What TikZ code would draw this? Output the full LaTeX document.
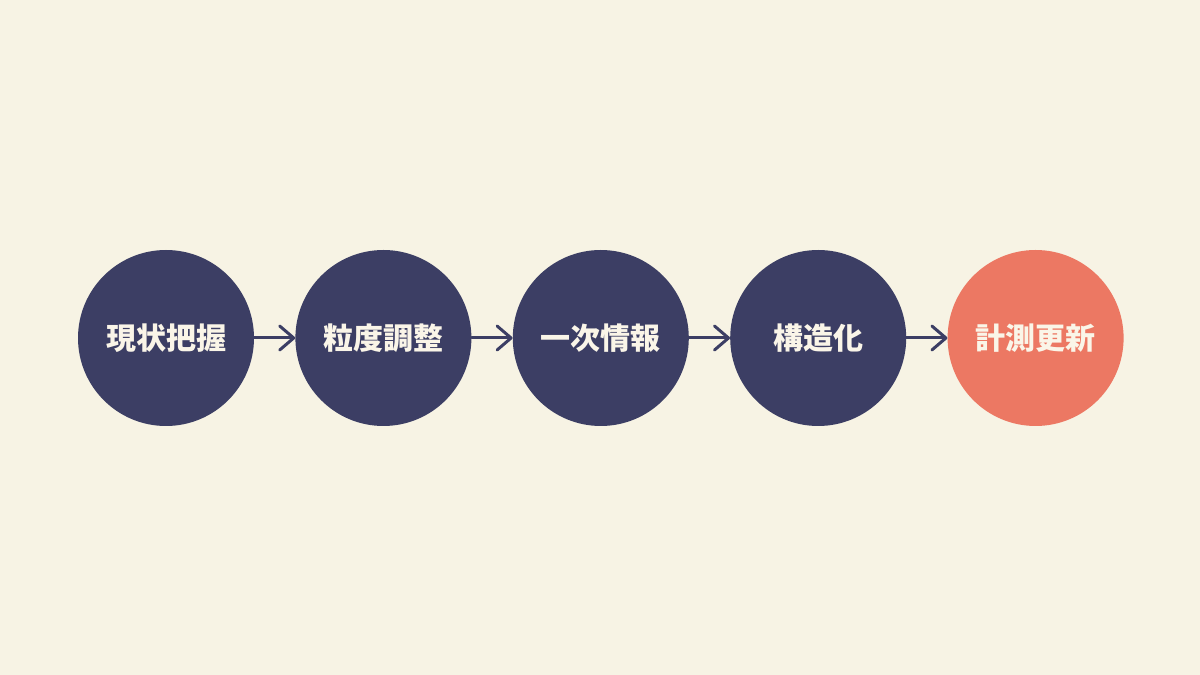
\documentclass[tikz,border=0pt]{standalone}
\usepackage{fontspec}
\newfontfamily\jpfont{Noto Sans CJK JP}
\usetikzlibrary{positioning,arrows.meta}
\definecolor{cream}{HTML}{F7F3E4}
\definecolor{navy}{HTML}{3C3E64}
\definecolor{coral}{HTML}{EC7863}
\definecolor{labelwhite}{HTML}{FAF5E8}
\begin{document}
\begin{tikzpicture}
        [
            x = 1pt, y = 1pt,
            node distance = 41pt,
            stage/.style={circle, fill=navy, minimum size=176pt, inner sep=0pt,
                text=labelwhite, font=\jpfont\bfseries\fontsize{30}{36}\selectfont},
            flow/.style={draw=navy, line width=3pt, line cap=round,
                -{Straight Barb[length=14pt, width=24pt, line width=3pt, round]}},
        ]
        \fill[cream] (0,0) rectangle (1200,675);
        \node[stage] (grasp) at (166,337) {現状把握};
        \node[stage, right=of grasp] (tune) {粒度調整};
        \node[stage, right=of tune] (source) {一次情報};
        \node[stage, right=of source] (struct) {構造化};
        \node[stage, right=of struct, fill=coral] (update) {計測更新};
        \foreach \from/\to in {grasp/tune, tune/source, source/struct, struct/update}
            \draw[flow] (\from) -- (\to);
\end{tikzpicture}
\end{document}
